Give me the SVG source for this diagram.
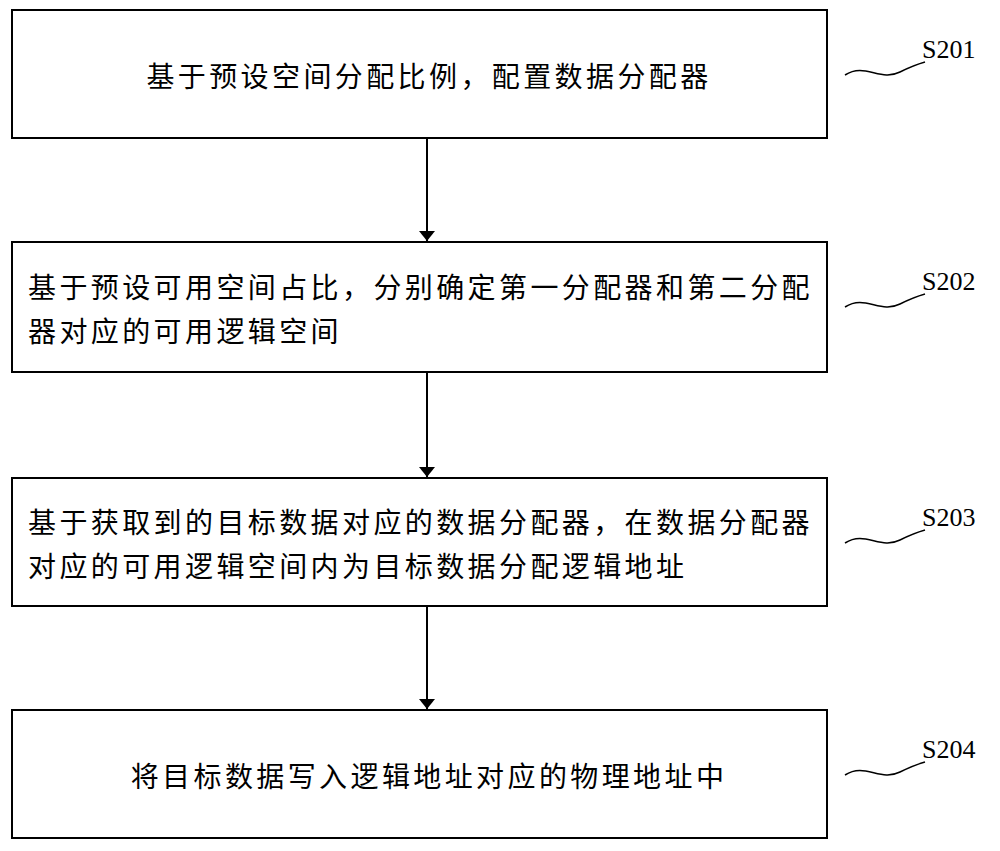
<svg xmlns="http://www.w3.org/2000/svg" width="1000" height="851" viewBox="0 0 1000 851">
<defs><marker id="ah" markerWidth="10" markerHeight="16" refX="10" refY="8" orient="auto" markerUnits="userSpaceOnUse"><path d="M0,0 L10,8 L0,16 Z" fill="#000"/></marker></defs>
<style>
.b{fill:#fff;stroke:#000;stroke-width:2}
.t{font-family:"Liberation Serif","Noto Sans CJK SC",serif;font-size:28px;letter-spacing:3.4px;fill:#000}
.l{font-family:"Liberation Serif",serif;font-size:26px;fill:#000}
.s{fill:none;stroke:#000;stroke-width:1.5}
.c{stroke:#000;stroke-width:2;fill:none}
</style>
<rect width="1000" height="851" fill="#fff"/>
<g id="n1"><rect class="b" x="12" y="10" width="815" height="128"/><text class="t" x="429" y="87" text-anchor="middle">基于预设空间分配比例，配置数据分配器</text></g>
<g id="n2"><rect class="b" x="12" y="242" width="815" height="130"/><text class="t" x="28" y="298">基于预设可用空间占比，分别确定第一分配器和第二分配</text><text class="t" x="28" y="342">器对应的可用逻辑空间</text></g>
<g id="n3"><rect class="b" x="12" y="478" width="815" height="128"/><text class="t" x="28" y="533">基于获取到的目标数据对应的数据分配器，在数据分配器</text><text class="t" x="28" y="577">对应的可用逻辑空间内为目标数据分配逻辑地址</text></g>
<g id="n4"><rect class="b" x="12" y="710" width="815" height="128"/><text class="t" x="429" y="787" text-anchor="middle">将目标数据写入逻辑地址对应的物理地址中</text></g>
<g id="labels">
<text class="l" x="922" y="58">S201</text><path class="s" d="M845,75 C865,62 880,82 900,72 C912,66 918,64 925,62"/>
<text class="l" x="922" y="290">S202</text><path class="s" d="M845,307 C865,294 880,314 900,304 C912,298 918,296 925,294"/>
<text class="l" x="922" y="526">S203</text><path class="s" d="M845,543 C865,530 880,550 900,540 C912,534 918,532 925,530"/>
<text class="l" x="922" y="758">S204</text><path class="s" d="M845,775 C865,762 880,782 900,772 C912,766 918,764 925,762"/>
</g>
<g id="connectors">
<line class="c" x1="427" y1="138" x2="427" y2="241" marker-end="url(#ah)"/>
<line class="c" x1="427" y1="372" x2="427" y2="477" marker-end="url(#ah)"/>
<line class="c" x1="427" y1="606" x2="427" y2="709" marker-end="url(#ah)"/>
</g>
</svg>
